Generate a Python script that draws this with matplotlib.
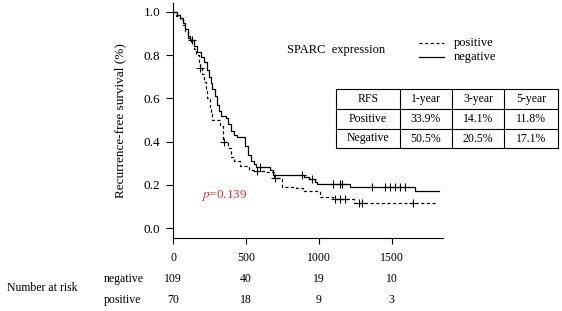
import matplotlib.pyplot as plt
import matplotlib.transforms as mtransforms
import numpy as np

plt.rcParams['font.family'] = ['Liberation Serif', 'DejaVu Serif']
plt.rcParams['mathtext.fontset'] = 'stix'

# Kaplan-Meier step data (time in days, survival after the step)
neg_t = [0, 25, 45, 65, 85, 100, 115, 145, 165, 190, 215, 235, 245, 260, 270, 285, 300, 315,
         330, 360, 375, 395, 420, 440, 495, 515, 535, 555, 570, 665, 685, 900, 935, 970, 990,
         1215, 1660, 1826]
neg_s = [1.0, 0.985, 0.97, 0.95, 0.92, 0.89, 0.87, 0.84, 0.815, 0.79, 0.77, 0.73, 0.70, 0.67,
         0.645, 0.61, 0.57, 0.54, 0.52, 0.51, 0.48, 0.45, 0.43, 0.42, 0.38, 0.34, 0.31, 0.295,
         0.283, 0.268, 0.245, 0.234, 0.225, 0.215, 0.206, 0.19, 0.17, 0.17]
neg_cens = [130, 598, 884, 950, 1100, 1146, 1156, 1365, 1455, 1490, 1520, 1555, 1590]

pos_t = [0, 20, 45, 65, 85, 105, 120, 140, 155, 175, 185, 200, 215, 225, 235, 250, 260, 270,
         320, 340, 375, 395, 420, 460, 520, 560, 640, 690, 750, 840, 890, 1010, 1100, 1240, 1808]
pos_s = [1.0, 0.98, 0.96, 0.94, 0.91, 0.88, 0.86, 0.83, 0.80, 0.77, 0.74, 0.71, 0.675, 0.64,
         0.60, 0.56, 0.53, 0.50, 0.47, 0.40, 0.37, 0.33, 0.31, 0.285, 0.27, 0.265, 0.258, 0.23,
         0.19, 0.183, 0.17, 0.146, 0.135, 0.118, 0.118]
pos_cens = [187, 352, 575, 700, 1112, 1146, 1180, 1272, 1295, 1646]

risk_times = [0, 500, 1000, 1500]
risk_neg = [109, 40, 19, 10]
risk_pos = [70, 18, 9, 3]

table_rows = [["RFS", "1-year", "3-year", "5-year"],
              ["Positive", "33.9%", "14.1%", "11.8%"],
              ["Negative", "50.5%", "20.5%", "17.1%"]]


def surv_at(t, times, surv):
    i = np.searchsorted(times, t, side='right') - 1
    return surv[i]


fig = plt.figure(figsize=(5.62, 3.11), dpi=100)
ax = fig.add_axes([0.308, 0.236, 0.48, 0.754])

ax.step(neg_t, neg_s, where='post', color='black', lw=0.9)
ax.step(pos_t, pos_s, where='post', color='black', lw=0.9, ls=(0, (2.5, 2)))
ax.plot(neg_cens, [surv_at(t, neg_t, neg_s) for t in neg_cens], '+', color='black', ms=6, mew=0.8)
ax.plot(pos_cens, [surv_at(t, pos_t, pos_s) for t in pos_cens], '+', color='black', ms=6, mew=0.8)

ax.set_xlim(0, 1850)
ax.set_ylim(-0.044, 1.04)
ax.set_xticks(risk_times)
ax.set_yticks([0.0, 0.2, 0.4, 0.6, 0.8, 1.0])
ax.set_yticklabels(['0.0', '0.2', '0.4', '0.6', '0.8', '1.0'])
ax.spines['top'].set_visible(False)
ax.spines['right'].set_visible(False)
ax.tick_params(axis='x', length=4, width=0.8, pad=6.5, labelsize=8.5)
ax.tick_params(axis='y', length=5, width=0.8, pad=4, labelsize=9.5)
ax.set_ylabel('Recurrence-free survival (%)', fontsize=9.5, labelpad=13)

ax.text(194, 0.152, r'$p$=0.139', color='#d9363a', fontsize=9.5, va='center')

# overlay in pixel coordinates for legend & table
ov = fig.add_axes([0, 0, 1, 1])
ov.set_xlim(0, 562)
ov.set_ylim(311, 0)
ov.axis('off')

ov.text(287, 50, 'SPARC  expression', fontsize=9, va='center')
ov.plot([419, 444], [43, 43], color='black', lw=0.9, ls=(0, (2.5, 2)))
ov.plot([419, 444], [57, 57], color='black', lw=0.9)
ov.text(454, 43, 'positive', fontsize=9, va='center')
ov.text(454, 57, 'negative', fontsize=9, va='center')

col_x = [336, 400, 452, 504, 558]
row_y = [89, 109, 129, 148]
for x in col_x:
    ov.plot([x, x], [row_y[0], row_y[-1]], color='black', lw=0.8)
for y in row_y:
    ov.plot([col_x[0], col_x[-1]], [y, y], color='black', lw=0.8)
for r, row in enumerate(table_rows):
    for c, cell in enumerate(row):
        ov.text((col_x[c] + col_x[c + 1]) / 2, (row_y[r] + row_y[r + 1]) / 2, cell,
                fontsize=8.5, ha='center', va='center')

# number at risk
tr = mtransforms.blended_transform_factory(ax.transData, fig.transFigure)
for t, n1, n2 in zip(risk_times, risk_neg, risk_pos):
    ax.text(t, 1 - 279 / 311, str(n1), transform=tr, ha='center', va='center', fontsize=8.5)
    ax.text(t, 1 - 300 / 311, str(n2), transform=tr, ha='center', va='center', fontsize=8.5)
fig.text(104 / 562, 1 - 279 / 311, 'negative', ha='left', va='center', fontsize=8.5)
fig.text(104 / 562, 1 - 300 / 311, 'positive', ha='left', va='center', fontsize=8.5)
fig.text(7 / 562, 1 - 288 / 311, 'Number at risk', ha='left', va='center', fontsize=8.5)

fig.savefig('out.png', dpi=100)
